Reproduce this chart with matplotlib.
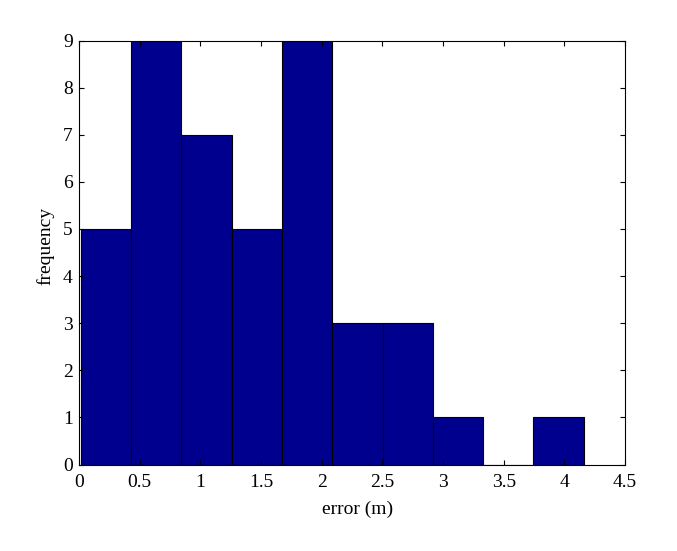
import numpy as np
import matplotlib
matplotlib.use("Agg")
import matplotlib.pyplot as plt

bin_edges = [0.0156, 0.4299, 0.8442, 1.2585, 1.6728, 2.0871, 2.5014, 2.9157, 3.33, 3.7443, 4.1586]
counts = [5, 9, 7, 5, 9, 3, 3, 1, 0, 1]
xticks = [0, 0.5, 1, 1.5, 2, 2.5, 3, 3.5, 4, 4.5]
yticks = list(range(0, 10))

plt.rcParams['font.family'] = ['Liberation Serif', 'DejaVu Serif']

fig = plt.figure(figsize=(6.77, 5.51), dpi=100)
ax = fig.add_axes([79/677, 1-464.5/551, (625-79)/677, (464.5-40.5)/551])
lefts = np.array(bin_edges[:-1])
widths = np.diff(bin_edges)
ax.bar(lefts, counts, width=widths, align='edge', color='#00008F',
       edgecolor='black', linewidth=0.8)
ax.set_xlim(0, 4.5)
ax.set_ylim(0, 9)
ax.set_xticks(xticks)
ax.set_xticklabels([f"{t:g}" for t in xticks])
ax.set_yticks(yticks)
ax.tick_params(direction='in', top=True, right=True, labelsize=14, length=3.6, width=0.8)
ax.tick_params(axis='x', pad=7)
ax.tick_params(axis='y', pad=4.5)
for s in ax.spines.values():
    s.set_linewidth(0.8)
ax.set_xlabel('error (m)', fontsize=14, labelpad=7)
ax.set_ylabel('frequency', fontsize=14, labelpad=6)
ax.xaxis.set_label_coords(0.51, -0.085)
ax.yaxis.label.set_y(0.515)
fig.savefig('out.png', dpi=100)
